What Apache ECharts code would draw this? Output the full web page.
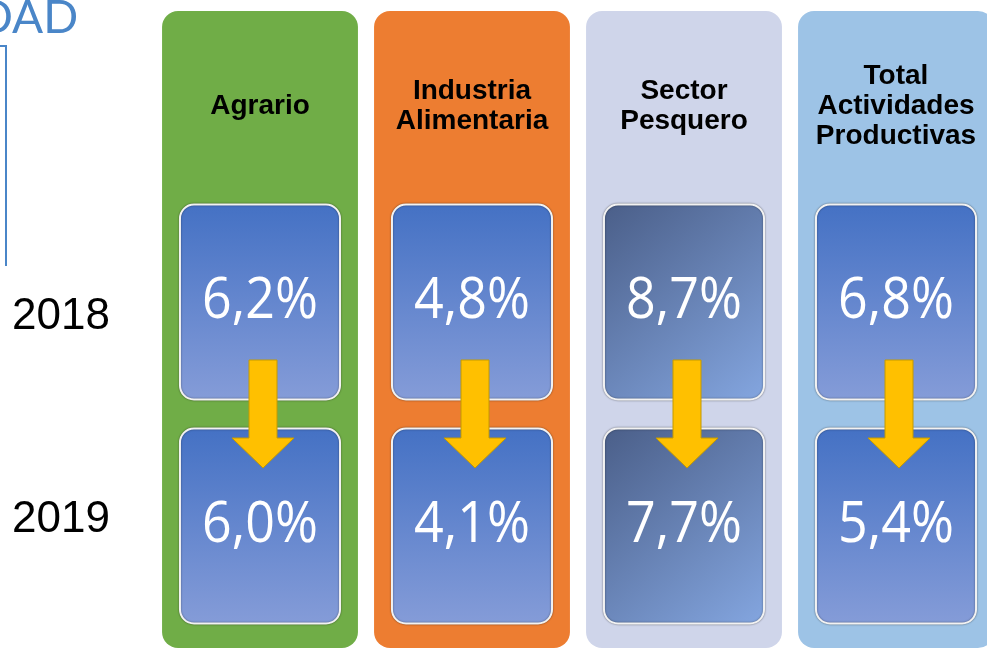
<!DOCTYPE html>
<html>
<head>
<meta charset="utf-8">
<script src="https://cdn.jsdelivr.net/npm/echarts@6/dist/echarts.min.js"></script>
<style>
  html, body { margin: 0; padding: 0; background: #fff; }
  #chart { width: 987px; height: 649px; }
</style>
</head>
<body>
<div id="chart"></div>
<script>
// sectores y años
const categories = ['Agrario', 'Industria\nAlimentaria', 'Sector\nPesquero', 'Total\nActividades\nProductivas']
const years = ['2018', '2019']
// tasas (%) por año
const values2018 = [6.2, 4.8, 8.7, 6.8]
const values2019 = [6.0, 4.1, 7.7, 5.4]

const columnColors = ['#70AD47', '#ED7D31', '#CFD5EA', '#9DC3E6']

function fmt (v) {
  return v.toFixed(1).replace('.', ',') + '%'
}

function boxFill (catIdx) {
  // el sector pesquero tiene un degradado diagonal más oscuro
  if (catIdx === 2) {
    return new echarts.graphic.LinearGradient(0, 0, 1, 1, [
      { offset: 0, color: '#4A5E88' },
      { offset: 1, color: '#84A6E0' }
    ])
  }
  return new echarts.graphic.LinearGradient(0, 0, 0, 1, [
    { offset: 0, color: '#4471C4' },
    { offset: 1, color: '#859CD8' }
  ])
}

const boxData = []
categories.forEach((c, i) => {
  boxData.push([i, 0, values2018[i]])
  boxData.push([i, 1, values2019[i]])
})
const arrowData = categories.map((c, i) => [i, values2018[i], values2019[i]])

const chart = echarts.init(document.getElementById('chart'))

const option = {
  animation: false,
  backgroundColor: '#fff',
  title: {
    text: 'DAD',
    left: -22,
    top: -5,
    padding: 0,
    textStyle: { color: '#4A86C8', fontSize: 46, fontWeight: 'normal', fontFamily: 'Lato' }
  },
  graphic: [{
    type: 'polyline',
    shape: { points: [[0, 46], [6, 46], [6, 266]] },
    style: { stroke: '#4A86C8', lineWidth: 2, fill: null }
  }],
  grid: { left: 154, top: 190, width: 848, height: 448, outerBoundsMode: 'none', containLabel: false },
  xAxis: {
    type: 'category',
    data: categories,
    show: false
  },
  yAxis: {
    type: 'category',
    data: years,
    inverse: true,
    axisLine: { show: false },
    axisTick: { show: false },
    splitLine: { show: false },
    axisLabel: {
      margin: 44,
      formatter: (v) => (v === '2018' ? '{a|' + v + '}' : '{b|' + v + '}'),
      rich: {
        a: { fontSize: 44, color: '#000', fontFamily: 'Liberation Sans', padding: [30, 0, 0, 0] },
        b: { fontSize: 44, color: '#000', fontFamily: 'Liberation Sans', padding: [0, 0, 12, 0] }
      }
    }
  },
  series: [
    {
      // columnas de fondo con el título del sector
      type: 'custom',
      name: 'columnas',
      silent: true,
      z: 1,
      data: categories.map((c, i) => [i, 0]),
      renderItem (params, api) {
        const i = api.value(0)
        const cs = params.coordSys
        const center = api.coord([i, 0])
        const band = api.size([1, 1])
        const half = band[0] * 0.462
        const top = cs.y - 179
        const bottom = cs.y + cs.height + 10
        return {
          type: 'group',
          children: [
            {
              type: 'rect',
              shape: { x: center[0] - half, y: top, width: half * 2, height: bottom - top, r: 16 },
              style: { fill: columnColors[i] }
            },
            {
              type: 'text',
              x: center[0],
              y: cs.y - 84,
              style: {
                text: categories[i],
                fill: '#000',
                font: 'bold 28px "Liberation Sans"',
                lineHeight: 30,
                align: 'center',
                verticalAlign: 'middle'
              }
            }
          ]
        }
      }
    },
    {
      // cajas con el valor de cada año
      type: 'custom',
      name: 'valores',
      silent: true,
      z: 2,
      data: boxData,
      renderItem (params, api) {
        const i = api.value(0)
        const y = api.value(1)
        const v = api.value(2)
        const c = api.coord([i, y])
        const band = api.size([1, 1])
        const w = band[0] * 0.755
        const h = band[1] * 0.87
        return {
          type: 'group',
          children: [
            {
              type: 'rect',
              shape: { x: c[0] - w / 2, y: c[1] - h / 2, width: w, height: h, r: 14 },
              style: {
                fill: boxFill(i),
                stroke: '#F2F2F2',
                lineWidth: 2,
                shadowColor: 'rgba(0,0,0,0.45)',
                shadowBlur: 2
              }
            },
            {
              type: 'text',
              x: c[0],
              y: c[1],
              scaleY: 1.08,
              style: {
                text: fmt(v),
                fill: '#fff',
                font: '52px "Open Sans"',
                align: 'center',
                verticalAlign: 'middle'
              }
            }
          ]
        }
      }
    },
    {
      // flechas de 2018 a 2019
      type: 'custom',
      name: 'flechas',
      silent: true,
      z: 3,
      data: arrowData,
      renderItem (params, api) {
        const i = api.value(0)
        const a = api.coord([i, 0])
        const b = api.coord([i, 1])
        const cx = a[0] + 3
        const y0 = a[1] + 58
        const tip = b[1] - 58
        const neck = tip - 30
        const sw = 14
        const hw = 31
        return {
          type: 'polygon',
          shape: {
            points: [
              [cx - sw, y0], [cx + sw, y0], [cx + sw, neck], [cx + hw, neck],
              [cx, tip], [cx - hw, neck], [cx - sw, neck]
            ]
          },
          style: { fill: '#FFC000', stroke: '#C49A00', lineWidth: 1 }
        }
      }
    }
  ]
}

chart.setOption(option)
</script>
</body>
</html>
